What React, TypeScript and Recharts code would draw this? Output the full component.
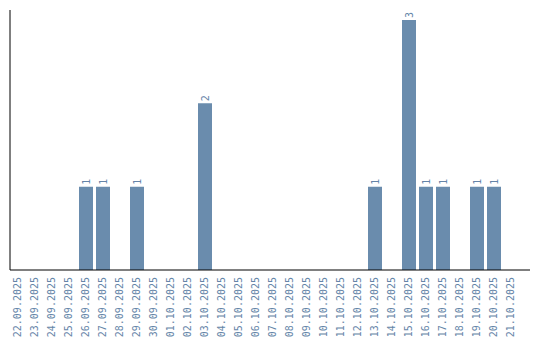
import React from 'react';
import { BarChart, Bar, XAxis, YAxis, LabelList } from 'recharts';

const dates = [
  '22.09.2025', '23.09.2025', '24.09.2025', '25.09.2025', '26.09.2025', '27.09.2025',
  '28.09.2025', '29.09.2025', '30.09.2025', '01.10.2025', '02.10.2025', '03.10.2025',
  '04.10.2025', '05.10.2025', '06.10.2025', '07.10.2025', '08.10.2025', '09.10.2025',
  '10.10.2025', '11.10.2025', '12.10.2025', '13.10.2025', '14.10.2025', '15.10.2025',
  '16.10.2025', '17.10.2025', '18.10.2025', '19.10.2025', '20.10.2025', '21.10.2025',
];
const counts = [0, 0, 0, 0, 1, 1, 0, 1, 0, 0, 0, 2, 0, 0, 0, 0, 0, 0, 0, 0, 0, 1, 0, 3, 1, 1, 0, 1, 1, 0];

const data = dates.map((d, i) => ({ date: d, count: counts[i] }));

const BAR = '#6a8cad';
const TEXT = '#6585a8';
const FONT = 'DejaVu Sans Mono';

const Tick = (props: any) => {
  const { x, y, payload } = props;
  const ty = y + 7;
  return (
    <text
      x={x}
      y={ty}
      transform={`rotate(-90, ${x}, ${ty})`}
      textAnchor="end"
      dy="0.36em"
      fill={TEXT}
      fontSize={10}
      fontFamily={FONT}
    >
      {payload.value}
    </text>
  );
};

const BarLabel = (props: any) => {
  const { x, y, width, value } = props;
  if (!value) return null;
  const cx = x + width / 2;
  const cy = y - 2;
  return (
    <text
      x={cx}
      y={cy}
      transform={`rotate(-90, ${cx}, ${cy})`}
      textAnchor="start"
      dy="0.36em"
      fill={TEXT}
      fontSize={10}
      fontFamily={FONT}
    >
      {value}
    </text>
  );
};

export default function App() {
  return (
    <div style={{ position: 'absolute', left: 0, top: 0, background: '#fff' }}>
      <BarChart
        width={540}
        height={340}
        data={data}
        margin={{ top: 10, right: 10, left: 9, bottom: 0 }}
        barSize={14}
      >
        <XAxis
          dataKey="date"
          interval={0}
          height={70}
          tick={<Tick />}
          tickLine={false}
          tickSize={0}
          tickMargin={0}
          padding={{ left: -1, right: 11 }}
          axisLine={{ stroke: '#000', strokeWidth: 1 }}
        />
        <YAxis
          width={1}
          domain={[0, 3.12]}
          tick={false}
          tickLine={false}
          axisLine={{ stroke: '#000', strokeWidth: 1 }}
        />
        <Bar dataKey="count" fill={BAR} isAnimationActive={false}>
          <LabelList dataKey="count" content={<BarLabel />} />
        </Bar>
      </BarChart>
    </div>
  );
}
